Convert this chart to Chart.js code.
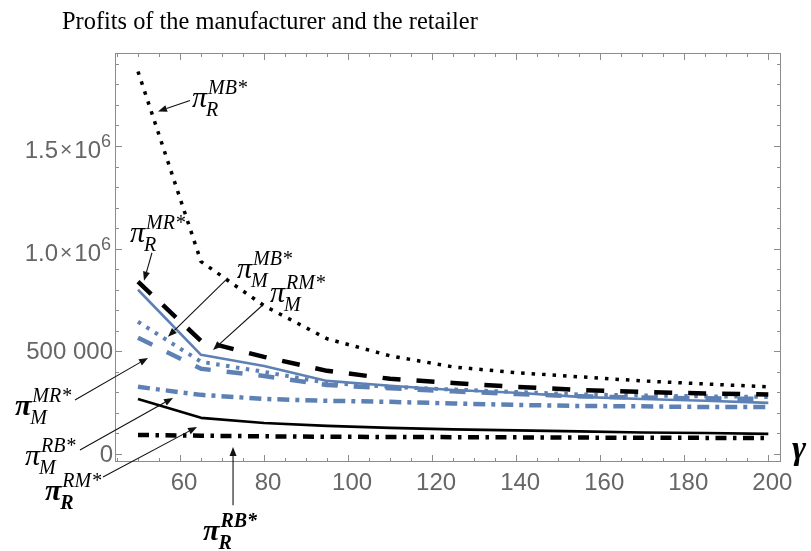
<!DOCTYPE html>
<html>
<head>
<meta charset="utf-8">
<style>
  html, body { margin: 0; padding: 0; background: #ffffff; }
  #wrap { width: 811px; height: 551px; position: relative; }
</style>
<script src="https://cdn.jsdelivr.net/npm/chart.js@4.4.1/dist/chart.umd.min.js"></script>
</head>
<body>
<div id="wrap"><canvas id="c" width="811" height="551"></canvas></div>
<script>
// gamma values and profits of each player under each channel structure
const gamma = [50, 65, 80, 95, 110, 125, 140, 155, 170, 185, 200];
const retailerMB     = [1863000, 937000, 722000, 561000, 478000, 424000, 396000, 376000, 356000, 341000, 327000];
const retailerMR     = [839000, 551000, 473000, 405000, 366000, 346000, 327000, 312000, 302000, 295000, 290000];
const manufacturerMB = [644000, 449000, 400000, 346000, 327000, 314000, 302000, 290000, 285000, 281000, 278000];
const manufacturerMR = [566000, 415000, 380000, 336000, 320000, 305000, 292000, 281000, 275000, 271000, 268000];
const manufacturerRM = [800000, 483000, 429000, 356000, 332000, 312000, 298000, 278000, 268000, 259000, 249000];
const manufacturerRB = [327000, 288000, 268000, 259000, 254000, 246000, 239000, 234000, 232000, 229000, 229000];
const retailerRM     = [268000, 176000, 151000, 137000, 127000, 120000, 115000, 110000, 105000, 102000, 98000];
const retailerRB     = [93000, 89000, 86000, 84000, 83000, 82000, 81000, 80000, 79000, 78500, 78000];

// axis ticks
const xTickLabels = [60, 80, 100, 120, 140, 160, 180, 200];
const yTickValues = [0, 500000, 1000000, 1500000];

const BLUE = '#5E81B5';
const pts = arr => gamma.map((g, i) => ({ x: g, y: arr[i] }));

// callouts: label anchor and arrow given in (gamma, profit) coordinates
const callouts = [
  { sup: 'MB*', sub: 'R', at: [62.86, 1688000], tail: [62.38, 1722000], head: [54.76, 1668000] },
  { sup: 'MR*', sub: 'R', at: [48.10, 1034000], tail: [53.33, 980000],  head: [51.43, 844000] },
  { sup: 'MB*', sub: 'M', at: [73.57, 858500],  tail: [71.43, 858000],  head: [57.14, 571000] },
  { sup: 'RM*', sub: 'M', at: [81.43, 741500],  tail: [79.76, 727000],  head: [67.86, 507000] },
  { sup: 'MR*', sub: 'M', at: [20.71, 190000],  tail: [35.00, 263000],  head: [52.38, 468000], bold: true },
  { sup: 'RB*', sub: 'M', at: [23.10, -53700],  tail: [36.19, 19500],   head: [58.33, 273000] },
  { sup: 'RM*', sub: 'R', at: [27.86, -224000], tail: [41.67, -112000], head: [64.05, 132000], bold: true, subBold: true },
  { sup: 'RB*', sub: 'R', at: [65.48, -419500], tail: [72.62, -249000], head: [72.62, 34000], bold: true, subBold: true, supBold: true }
];

const FRAME = '#8c8c8c';
const LABEL = '#666666';

const framePlugin = {
  id: 'frame',
  afterDatasetsDraw(chart) {
    const { ctx, chartArea: a, scales: { x, y } } = chart;
    ctx.save();
    ctx.strokeStyle = FRAME;
    ctx.lineWidth = 1;
    ctx.strokeRect(a.left + 0.5, a.top + 0.5, a.right - a.left - 1, a.bottom - a.top - 1);
    ctx.beginPath();
    // gamma ticks every 5, longer every 20, on bottom and top edges
    for (let g = 45; g <= 200; g += 5) {
      const px = Math.round(x.getPixelForValue(g)) + 0.5;
      const len = g % 20 === 0 ? 7 : 4;
      ctx.moveTo(px, a.bottom); ctx.lineTo(px, a.bottom - len);
      ctx.moveTo(px, a.top); ctx.lineTo(px, a.top + len);
    }
    // profit ticks every 100 000, longer every 500 000, on left and right edges
    for (let v = 0; v <= 1900000; v += 100000) {
      const py = Math.round(y.getPixelForValue(v)) + 0.5;
      const len = v % 500000 === 0 ? 7 : 4;
      ctx.moveTo(a.left, py); ctx.lineTo(a.left + len, py);
      ctx.moveTo(a.right, py); ctx.lineTo(a.right - len, py);
    }
    ctx.stroke();
    ctx.restore();
  },
  afterDraw(chart) {
    const { ctx, chartArea: a, scales: { x, y } } = chart;
    ctx.save();
    // title
    ctx.fillStyle = '#000';
    ctx.textAlign = 'left';
    ctx.textBaseline = 'alphabetic';
    ctx.font = '24.4px "Liberation Serif"';
    ctx.fillText('Profits of the manufacturer and the retailer', 62, 29);

    // profit tick labels
    ctx.fillStyle = LABEL;
    const right = a.left - 2;
    yTickValues.forEach(v => {
      const py = y.getPixelForValue(v);
      if (v >= 1000000) {
        ctx.font = '18px "Liberation Sans"';
        const w6 = ctx.measureText('6').width;
        ctx.textAlign = 'left';
        let cx = right - 2 - w6;
        ctx.fillText('6', cx, py + 1);
        ctx.textAlign = 'right';
        ctx.font = '24px "Liberation Sans"';
        ctx.fillText('10', cx, py + 12);
        cx -= ctx.measureText('10').width + 2;
        ctx.font = '21px "Liberation Sans"';
        ctx.fillText('\u00d7', cx, py + 10);
        cx -= ctx.measureText('\u00d7').width + 2;
        ctx.font = '24px "Liberation Sans"';
        ctx.fillText((v / 1000000).toFixed(1), cx, py + 12);
      } else {
        const s = v === 0 ? '0' : String(v).replace(/(\d)(?=(\d{3})+$)/g, '$1 ');
        ctx.font = '24px "Liberation Sans"';
        ctx.textAlign = 'right';
        ctx.fillText(s, right, py + 8);
      }
    });

    // gamma axis name
    ctx.fillStyle = '#000';
    ctx.textAlign = 'left';
    ctx.font = 'bold italic 34px "Liberation Serif"';
    ctx.fillText('\u03b3', a.right + 11, a.bottom - 3);

    // callouts with arrows
    callouts.forEach(c => {
      const tx = x.getPixelForValue(c.tail[0]), ty = y.getPixelForValue(c.tail[1]);
      const hx = x.getPixelForValue(c.head[0]), hy = y.getPixelForValue(c.head[1]);
      ctx.strokeStyle = '#111';
      ctx.fillStyle = '#111';
      ctx.lineWidth = 1.1;
      const ang = Math.atan2(hy - ty, hx - tx);
      const L = 9, W = 3.5;
      const bx = hx - L * Math.cos(ang), by = hy - L * Math.sin(ang);
      ctx.beginPath();
      ctx.moveTo(tx, ty); ctx.lineTo(bx, by);
      ctx.stroke();
      ctx.beginPath();
      ctx.moveTo(hx, hy);
      ctx.lineTo(bx + W * Math.sin(ang), by - W * Math.cos(ang));
      ctx.lineTo(bx - W * Math.sin(ang), by + W * Math.cos(ang));
      ctx.closePath();
      ctx.fill();

      const px = x.getPixelForValue(c.at[0]), py = y.getPixelForValue(c.at[1]);
      ctx.fillStyle = '#000';
      ctx.textAlign = 'left';
      ctx.font = (c.bold ? 'bold ' : '') + 'italic 30px "Liberation Serif"';
      ctx.fillText('\u03c0', px, py);
      const w = ctx.measureText('\u03c0').width;
      ctx.font = (c.supBold ? 'bold ' : '') + 'italic 20px "Liberation Serif"';
      ctx.fillText(c.sup, px + w + 1, py - 13);
      ctx.font = (c.subBold ? 'bold ' : '') + 'italic 20px "Liberation Serif"';
      ctx.fillText(c.sub, px + w - 1, py + 9);
    });
    ctx.restore();
  }
};

const line = (data, color, width, dash) => ({
  data: pts(data),
  borderColor: color,
  borderWidth: width,
  borderDash: dash,
  borderCapStyle: 'butt',
  borderJoinStyle: 'round',
  pointRadius: 0,
  tension: 0,
  fill: false
});

new Chart(document.getElementById('c'), {
  type: 'line',
  data: {
    datasets: [
      line(retailerMB, '#000', 3.5, [3.5, 7]),
      line(retailerMR, '#000', 4.5, [18, 16]),
      line(manufacturerRM, BLUE, 2.6, []),
      line(manufacturerMB, BLUE, 4, [3.5, 6.5]),
      line(manufacturerMR, BLUE, 4.5, [16, 16]),
      line(manufacturerRB, BLUE, 4.5, [12, 6, 4, 6]),
      line(retailerRM, '#000', 2.6, []),
      line(retailerRB, '#000', 4.5, [11, 6.5, 3.5, 6.5])
    ]
  },
  options: {
    responsive: false,
    animation: false,
    events: [],
    layout: { padding: { left: 115, right: 30, top: 53, bottom: 49 } },
    plugins: { legend: { display: false }, tooltip: { enabled: false }, title: { display: false } },
    scales: {
      x: {
        type: 'linear',
        min: 44.53,
        max: 203.02,
        grid: { display: false, drawTicks: false },
        border: { display: false },
        afterBuildTicks: s => { s.ticks = xTickLabels.map(v => ({ value: v })); },
        afterFit: s => { s.paddingLeft = 0; s.paddingRight = 0; s.height = 40; },
        ticks: {
          autoSkip: false,
          maxRotation: 0,
          padding: 7,
          labelOffset: 4,
          color: LABEL,
          font: { family: 'Liberation Sans', size: 24 }
        }
      },
      y: {
        type: 'linear',
        display: false,
        min: -38960,
        max: 1952860
      }
    }
  },
  plugins: [framePlugin]
});
</script>
</body>
</html>
